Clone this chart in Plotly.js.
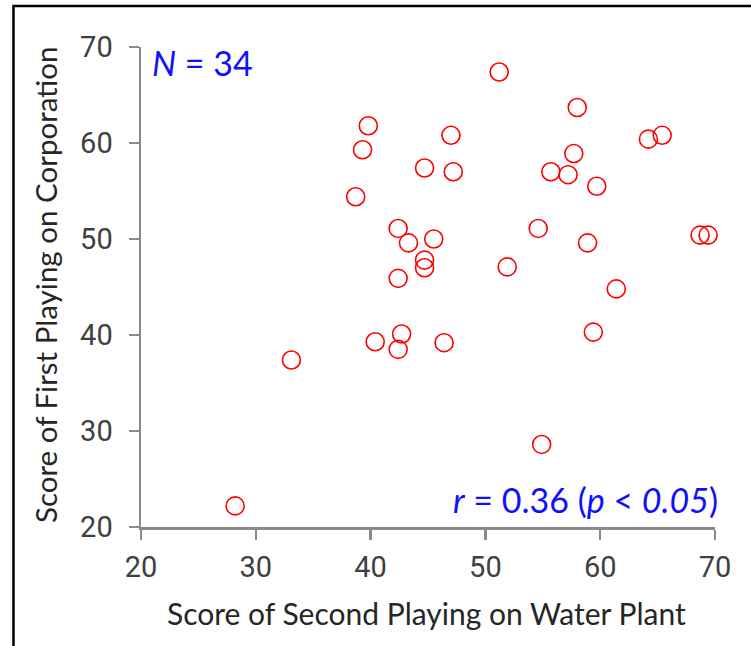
<!DOCTYPE html>
<html>
<head>
<meta charset="utf-8">
<script src="https://cdn.plot.ly/plotly-3.0.1.min.js"></script>
<style>
  html, body { margin: 0; padding: 0; background: #fff; }
  #chart { width: 751px; height: 646px; }
</style>
</head>
<body>
<div id="chart"></div>
<script>
// Score of second playing on Water Plant (x) vs first playing on Corporation (y)
const waterPlant = [28.2, 33.1, 38.7, 39.3, 39.8, 40.4, 42.4, 42.4, 42.4, 42.7,
                    43.3, 44.7, 44.7, 44.7, 45.5, 46.4, 47.0, 47.2, 51.2, 51.9,
                    54.6, 54.9, 55.7, 57.2, 57.7, 58.0, 58.9, 59.4, 59.7, 61.4,
                    64.2, 65.4, 68.7, 69.4];
const corporation = [22.2, 37.4, 54.4, 59.3, 61.8, 39.3, 51.1, 45.9, 38.5, 40.1,
                     49.6, 57.4, 47.8, 47.0, 50.0, 39.2, 60.8, 57.0, 67.4, 47.1,
                     51.1, 28.6, 57.0, 56.7, 58.9, 63.7, 49.6, 40.3, 55.5, 44.8,
                     60.4, 60.8, 50.4, 50.4];
const tickValues = [20, 30, 40, 50, 60, 70];
const tickLabels = ["20", "30", "40", "50", "60", "70"];
const xTitle = "Score of Second Playing on Water Plant";
const yTitle = "Score of First Playing on Corporation";
const nLabel = "<i>N</i> = 34";
const rLabel = "<i>r</i> = 0.36 (<i>p</i> &lt; <i>0.05</i>)";

const W = 751, H = 646;
const margin = {l: 141, r: 36, t: 47, b: 119};
const pw = W - margin.l - margin.r, ph = H - margin.t - margin.b;
const px = v => (v - margin.l) / pw;          // pixel x -> paper
const py = v => (H - margin.b - v) / ph;      // pixel y -> paper

const tickFont = {family: "Liberation Sans Narrow, Roboto, Arial Narrow, sans-serif", size: 29, color: "#404040"};
const axisCommon = {
  range: [20, 70], tickmode: "array", tickvals: tickValues, ticktext: tickLabels,
  showgrid: false, zeroline: false, showline: true, linecolor: "#8a8a8a", linewidth: 2.5,
  ticks: "outside", ticklen: 10, tickwidth: 2.5, tickcolor: "#8a8a8a",
  tickfont: tickFont, fixedrange: true
};

const trace = {
  x: waterPlant, y: corporation, type: "scatter", mode: "markers",
  marker: {symbol: "circle-open", size: 18, color: "#ff0000", line: {width: 1.6, color: "#ff0000"}},
  hoverinfo: "skip", cliponaxis: false
};

const layout = {
  width: W, height: H, margin: margin,
  paper_bgcolor: "#ffffff", plot_bgcolor: "#ffffff", showlegend: false,
  xaxis: Object.assign({}, axisCommon, {ticklabelstandoff: 3}),
  yaxis: Object.assign({}, axisCommon, {ticklabelstandoff: 10}),
  shapes: [
    {type: "rect", xref: "paper", yref: "paper", x0: px(13.5), x1: px(800), y0: py(6), y1: py(700),
     line: {color: "#000", width: 2.5}, fillcolor: "rgba(0,0,0,0)"}
  ],
  annotations: [
    {text: xTitle, xref: "paper", yref: "paper", x: px(426.5), y: py(613), xanchor: "center", yanchor: "middle",
     showarrow: false, font: {family: "Lato, Open Sans, sans-serif", size: 30, color: "#262626"}},
    {text: yTitle, xref: "paper", yref: "paper", x: px(45), y: py(285), xanchor: "center", yanchor: "middle",
     textangle: -90, showarrow: false, font: {family: "Lato, Open Sans, sans-serif", size: 29.5, color: "#262626"}},
    {text: nLabel, xref: "paper", yref: "paper", x: px(150), y: py(62), xanchor: "left", yanchor: "middle",
     showarrow: false, font: {family: "Lato, Open Sans, sans-serif", size: 34, color: "#1010ff"}},
    {text: rLabel, xref: "paper", yref: "paper", x: px(720), y: py(499), xanchor: "right", yanchor: "middle",
     showarrow: false, font: {family: "Lato, Open Sans, sans-serif", size: 34, color: "#1010ff"}}
  ]
};

Plotly.newPlot("chart", [trace], layout, {displayModeBar: false, staticPlot: true});
</script>
</body>
</html>
